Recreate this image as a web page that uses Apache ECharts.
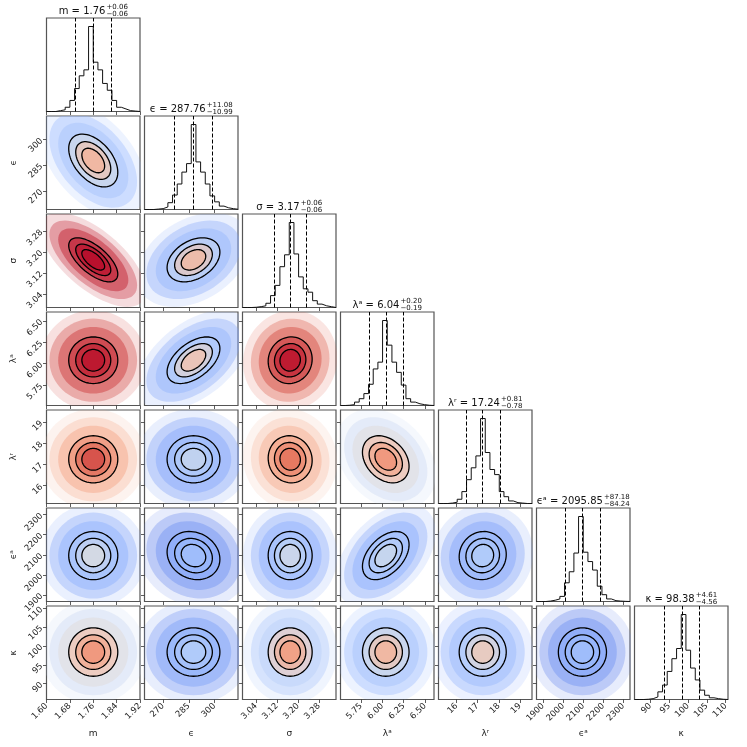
<!DOCTYPE html>
<html><head><meta charset="utf-8">
<script src="https://cdn.jsdelivr.net/npm/echarts@6/dist/echarts.min.js"></script>
<style>html,body{margin:0;padding:0;background:#fff}#c{width:747px;height:747px}</style>
</head><body><div id="c"></div><script>
// ---------------- data ----------------
const paramNames = ['m','ϵ','σ','λᵃ','λʳ','ϵᵃ','κ'];
const medians    = [1.76, 287.76, 3.17, 6.04, 17.24, 2095.85, 98.38];
const errPlus    = [0.06, 11.08, 0.06, 0.20, 0.81, 87.18, 4.61];
const errMinus   = [0.06, 10.99, 0.06, 0.19, 0.78, 84.24, 4.56];
const rangeMin   = [1.60, 259.1, 2.988, 5.51, 15.15, 1867, 85.8];
const rangeMax   = [1.92, 313.8, 3.345, 6.605, 19.57, 2333, 110.6];
const tickDecimals = [2, 0, 2, 2, 0, 0, 0];
const ticksM     = [1.60, 1.68, 1.76, 1.84, 1.92];
const ticksEps   = [270, 285, 300];
const ticksSigma = [3.04, 3.12, 3.20, 3.28];
const ticksLa    = [5.75, 6.00, 6.25, 6.50];
const ticksLr    = [16, 17, 18, 19];
const ticksEa    = [1900, 2000, 2100, 2200, 2300];
const ticksKappa = [90, 95, 100, 105, 110];
// 20-bin histogram heights (relative counts)
const histM     = [0,0,1,2,5,13,27,42,49,100,58,49,33,25,13,5,3,1,0.5,0];
const histEps   = [0,0,0.5,1,3,8,17,30,44,54,100,56,44,30,16,9,4,2,1,0.3];
const histSigma = [0,0,0.3,1,2,5,14,26,48,62,100,63,36,22,18,8,4,2,1,0];
const histLa    = [0,0.3,1,4,8,14,25,43,51,100,71,51,39,24,8,4,2,1,0.3,0];
const histLr    = [0,0,0.5,1.5,5,14,28,42,56,100,60,40,34,14,8,3,1,0.5,0,0];
const histEa    = [0,0,0.5,1.5,3,6,22,35,57,100,58,47,37,18,8,3,1,0.5,0.2,0];
const histKappa = [0,0,0.3,1,3,9,17,33,48,60,100,58,37,23,11,5,2,1,0.3,0];
// lower-triangle 2D panels
const pairRows = [1,2,2,3,3,3,4,4,4,4,5,5,5,5,5,6,6,6,6,6,6];
const pairCols = [0,0,1,0,1,2,0,1,2,3,0,1,2,3,4,0,1,2,3,4,5];
const pairCorr = [-0.45,-0.65,0.35,0.0,0.5,0.05,0.0,0.0,-0.05,-0.3,0.0,-0.15,0.0,0.45,0.05,0,0,0,0,0,0];
const pairCenterHeat = [0.64,0.99,0.62,0.98,0.58,0.98,0.9,0.46,0.82,0.74,0.5,0.36,0.48,0.47,0.42,0.74,0.42,0.72,0.64,0.56,0.36];
const pairOuterHeat  = [0.3,0.95,0.24,0.9,0.24,0.86,0.62,0.22,0.6,0.45,0.24,0.17,0.24,0.24,0.22,0.45,0.2,0.36,0.3,0.27,0.17];
const contourLevels = [0.65, 1.0, 1.4];

// ---------------- layout / style ----------------
const tickLists = [ticksM, ticksEps, ticksSigma, ticksLa, ticksLr, ticksEa, ticksKappa];
const hists = [histM, histEps, histSigma, histLa, histLr, histEa, histKappa];
const N = paramNames.length;
const X0 = 46.5, Y0 = 18, STEP = 98, SIZE = 93.5;
const FONT = 'DejaVu Sans';
const cloudLayers = [
  {r: 3.0, t: 0.0, a: 0.16},
  {r: 2.5, t: 0.0, a: 0.34},
  {r: 2.0, t: 0.2, a: 0.48},
  {r: 1.4, t: 0.55, a: 0.55},
  {r: 1.0, t: 0.85, a: 0.6},
  {r: 0.65, t: 1.0, a: 0.7}
];
const cw = [[0,[59,76,192]],[0.143,[98,130,234]],[0.286,[141,176,254]],[0.429,[184,208,249]],
            [0.5,[221,221,221]],[0.571,[245,196,173]],[0.714,[244,154,123]],[0.857,[222,96,77]],[1,[180,4,38]]];
function coolwarm(v, a) {
  v = Math.max(0, Math.min(1, v));
  for (let k = 0; k < cw.length - 1; k++) {
    if (v <= cw[k+1][0]) {
      const f = (v - cw[k][0]) / (cw[k+1][0] - cw[k][0]);
      const c = cw[k][1].map((x, q) => Math.round(x + f * (cw[k+1][1][q] - x)));
      return 'rgba(' + c.join(',') + ',' + a + ')';
    }
  }
  return 'rgba(180,4,38,' + a + ')';
}
const sig = medians.map((m, i) => (errPlus[i] + errMinus[i]) / 2);
function ellipse(cx, cy, sx, sy, rho, r) {
  const pts = [], q = Math.sqrt(1 - rho * rho);
  for (let k = 0; k < 72; k++) {
    const th = 2 * Math.PI * k / 72;
    pts.push([cx + r * sx * Math.cos(th), cy + r * sy * (rho * Math.cos(th) + q * Math.sin(th))]);
  }
  return pts;
}
const fmt = (i) => (v) => Number(v).toFixed(tickDecimals[i]);

const grids = [], xAxes = [], yAxes = [], series = [], graphics = [];
function addGrid(row, col) {
  grids.push({left: X0 + STEP * col, top: Y0 + STEP * row, width: SIZE, height: SIZE,
    show: true, borderColor: '#555', borderWidth: 1.2, backgroundColor: 'rgba(0,0,0,0)'});
  return grids.length - 1;
}
function xAxisFor(g, varIdx, row) {
  const bottom = row === N - 1;
  return {gridIndex: g, type: 'value', min: rangeMin[varIdx], max: rangeMax[varIdx],
    splitLine: {show: false}, axisLine: {show: false},
    axisTick: {show: true, inside: false, length: 3.5, customValues: tickLists[varIdx], lineStyle: {color: '#333', width: 0.8}},
    axisLabel: {show: bottom, customValues: tickLists[varIdx], rotate: 45, fontSize: 8.5, fontFamily: FONT, color: '#222', margin: 5, formatter: fmt(varIdx)},
    name: bottom ? paramNames[varIdx] : '', nameLocation: 'middle', nameGap: 30,
    nameTextStyle: {fontSize: 9, fontFamily: FONT, color: '#222'}};
}

// diagonal histograms
for (let i = 0; i < N; i++) {
  const g = addGrid(i, i);
  xAxes.push(xAxisFor(g, i, i));
  const h = hists[i], hmax = Math.max.apply(null, h);
  yAxes.push({gridIndex: g, type: 'value', min: 0, max: hmax * 1.1, show: true,
    splitLine: {show: false}, axisLine: {show: false}, axisTick: {show: false}, axisLabel: {show: false}});
  const w = (rangeMax[i] - rangeMin[i]) / h.length;
  const data = h.map((v, k) => [rangeMin[i] + k * w, v]);
  data.push([rangeMax[i], h[h.length - 1]]);
  series.push({type: 'line', xAxisIndex: xAxes.length - 1, yAxisIndex: yAxes.length - 1,
    data: data, step: 'end', symbol: 'none', lineStyle: {color: '#111', width: 1}, silent: true,
    markLine: {silent: true, symbol: ['none', 'none'], label: {show: false},
      lineStyle: {type: [4, 2], color: '#000', width: 1},
      data: [{xAxis: medians[i] - errMinus[i]}, {xAxis: medians[i]}, {xAxis: medians[i] + errPlus[i]}]}});
}

// 2D panels
for (let p = 0; p < pairRows.length; p++) {
  const i = pairRows[p], j = pairCols[p];
  const g = addGrid(i, j);
  xAxes.push(xAxisFor(g, j, i));
  const left = j === 0;
  yAxes.push({gridIndex: g, type: 'value', min: rangeMin[i], max: rangeMax[i],
    splitLine: {show: false}, axisLine: {show: false},
    axisTick: {show: true, inside: false, length: 3.5, customValues: tickLists[i], lineStyle: {color: '#333', width: 0.8}},
    axisLabel: {show: left, customValues: tickLists[i], rotate: 45, fontSize: 8.5, fontFamily: FONT, color: '#222', margin: 5, formatter: fmt(i)},
    name: left ? paramNames[i] : '', nameLocation: 'middle', nameGap: 28, nameRotate: 90,
    nameTextStyle: {fontSize: 9, fontFamily: FONT, color: '#222'}});
  const rho = pairCorr[p], ch = pairCenterHeat[p], oh = pairOuterHeat[p];
  series.push({type: 'custom', xAxisIndex: xAxes.length - 1, yAxisIndex: yAxes.length - 1, clip: true, silent: true,
    data: [[medians[j], medians[i]]],
    renderItem: function (params, api) {
      const cx = api.value(0), cy = api.value(1);
      const children = [];
      cloudLayers.forEach(L => {
        const pts = ellipse(cx, cy, sig[j], sig[i], rho, L.r).map(pt => api.coord(pt));
        children.push({type: 'polygon', shape: {points: pts}, style: {fill: coolwarm(oh + L.t * (ch - oh), L.a)}});
      });
      contourLevels.forEach(r => {
        const pts = ellipse(cx, cy, sig[j], sig[i], rho, r).map(pt => api.coord(pt));
        children.push({type: 'polygon', shape: {points: pts}, style: {fill: 'none', stroke: '#000', lineWidth: 1.3}});
      });
      return {type: 'group', children: children};
    }});
}

// titles above the diagonal panels
const cv = document.createElement('canvas').getContext('2d');
function tw(text, size) { cv.font = size + 'px ' + FONT; return cv.measureText(text).width; }
for (let i = 0; i < N; i++) {
  const main = paramNames[i] + ' = ' + medians[i].toFixed(2);
  const sup = '+' + errPlus[i].toFixed(2), sub = '\u2212' + errMinus[i].toFixed(2);
  const mw = tw(main, 10), sw = Math.max(tw(sup, 7), tw(sub, 7));
  const cx = X0 + STEP * i + SIZE / 2, top = Y0 + STEP * i;
  const x0 = cx - (mw + sw + 1) / 2;
  graphics.push({type: 'text', x: x0, y: top - 7, style: {text: main, fontSize: 10, fontFamily: FONT, fill: '#111', align: 'left', verticalAlign: 'middle'}});
  graphics.push({type: 'text', x: x0 + mw + 1, y: top - 10.5, style: {text: sup, fontSize: 7, fontFamily: FONT, fill: '#111', align: 'left', verticalAlign: 'middle'}});
  graphics.push({type: 'text', x: x0 + mw + 1, y: top - 4, style: {text: sub, fontSize: 7, fontFamily: FONT, fill: '#111', align: 'left', verticalAlign: 'middle'}});
}

const chart = echarts.init(document.getElementById('c'), null, {renderer: 'canvas'});
chart.setOption({animation: false, backgroundColor: '#fff', grid: grids, xAxis: xAxes, yAxis: yAxes, series: series, graphic: graphics});
</script></body></html>
